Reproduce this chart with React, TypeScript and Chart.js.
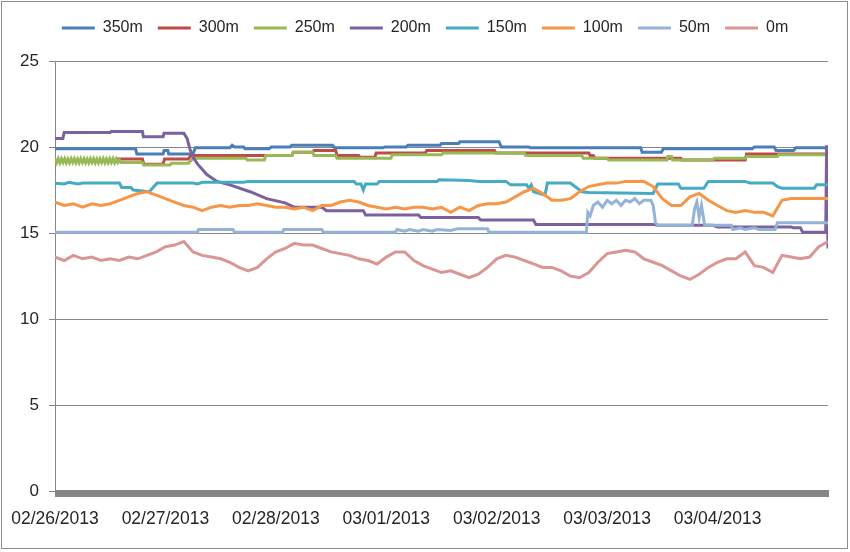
import { useEffect, useRef } from 'react';
import { Chart, registerables } from 'chart.js';

Chart.register(...registerables);

// ---- axis / legend text ----
const DATE_LABELS = ['02/26/2013', '02/27/2013', '02/28/2013', '03/01/2013', '03/02/2013', '03/03/2013', '03/04/2013'];
const SERIES_NAMES = ['350m', '300m', '250m', '200m', '150m', '100m', '50m', '0m'];
const SERIES_COLORS = ['#4A7EBB', '#BE4B48', '#98B954', '#7D60A0', '#46AAC5', '#F79646', '#95B3D7', '#D99694'];
const Y_MIN = 0;
const Y_MAX = 25;
const Y_STEP = 5;
const HOURS_TOTAL = 168;

// ---- step-like series: [hour since 02/26 00:00, value] ----
const SERIES_350M: Array<[number, number]> = [
  [0, 19.9], [17.5, 19.9], [17.8, 19.6], [23.5, 19.6], [23.7, 19.8], [24.5, 19.8], [24.7, 19.6], [30, 19.6],
  [30.5, 19.95], [38, 19.95], [38.5, 20.1], [39, 20.0], [41, 20.0], [41.3, 19.9], [46.5, 19.9], [47, 20.0],
  [51, 20.0], [51.5, 20.1], [60.3, 20.1], [60.8, 19.95], [71.3, 19.95], [71.7, 20.0], [76.3, 20.0], [76.7, 20.1],
  [83.7, 20.1], [84, 20.2], [87.7, 20.2], [88, 20.3], [96.5, 20.3], [97, 20.0], [103, 20.0], [103.3, 19.95],
  [127.3, 19.95], [127.6, 19.7], [131.8, 19.7], [132.2, 19.9], [151.5, 19.9], [152, 20.0], [156.3, 20.0],
  [156.7, 19.8], [160.5, 19.8], [161, 19.95], [168, 19.95],
];

const SERIES_300M: Array<[number, number]> = [
  [0, 19.2], [13.5, 19.2], [13.7, 19.3], [19, 19.3], [19.3, 19.0], [23.5, 19.0], [23.8, 19.3], [29, 19.3],
  [29.5, 19.5], [51.5, 19.5], [51.8, 19.7], [56, 19.7], [56.3, 19.8], [61, 19.8], [61.3, 19.5], [66, 19.5],
  [66.3, 19.4], [69.5, 19.4], [69.8, 19.65], [80.5, 19.65], [80.8, 19.8], [95.5, 19.8], [95.8, 19.65],
  [116, 19.65], [116.3, 19.5], [117, 19.5], [117.3, 19.35], [136, 19.35], [136.3, 19.25], [150, 19.25],
  [150.3, 19.6], [168, 19.6],
];

const SERIES_250M: Array<[number, number]> = [
  [0, 19.3], [0.35, 19.08], [0.7, 19.32], [1.05, 19.08], [1.4, 19.32], [1.75, 19.1], [2.1, 19.32], [2.45, 19.08],
  [2.8, 19.3], [3.15, 19.08], [3.5, 19.32], [3.85, 19.1], [4.2, 19.32], [4.55, 19.08], [4.9, 19.3], [5.25, 19.08],
  [5.6, 19.32], [5.95, 19.1], [6.3, 19.32], [6.65, 19.08], [7, 19.3], [7.35, 19.08], [7.7, 19.32], [8.05, 19.1],
  [8.4, 19.32], [8.75, 19.08], [9.1, 19.3], [9.45, 19.08], [9.8, 19.32], [10.15, 19.1], [10.5, 19.32],
  [10.85, 19.08], [11.2, 19.3], [11.55, 19.08], [11.9, 19.32], [12.25, 19.1], [12.6, 19.32], [12.95, 19.08],
  [13.3, 19.3], [13.65, 19.1], [14, 19.25], [14.3, 19.1], [19, 19.1], [19.3, 18.95],
  [25, 18.95], [25.3, 19.05], [29, 19.05], [30, 19.35], [41.5, 19.35], [41.8, 19.25], [45.5, 19.25],
  [45.8, 19.5], [51.5, 19.5], [51.8, 19.7], [56, 19.7], [56.3, 19.5], [61, 19.5], [61.3, 19.35], [73, 19.35],
  [73.3, 19.55], [84, 19.55], [84.3, 19.65], [102, 19.65], [102.3, 19.5], [114.5, 19.5], [114.8, 19.35],
  [120, 19.35], [120.3, 19.25], [133, 19.25], [133.2, 19.45], [134, 19.45], [134.2, 19.25], [143, 19.25],
  [143.3, 19.35], [150, 19.35], [150.3, 19.45], [157, 19.45], [157.3, 19.55], [168, 19.55],
];

const SERIES_200M: Array<[number, number]> = [
  [0, 20.5], [1.7, 20.5], [2, 20.85], [12, 20.85], [12.2, 20.9], [19, 20.9], [19.2, 20.6], [23.5, 20.6],
  [23.7, 20.8], [28, 20.8], [28.7, 20.5], [29.3, 19.9], [30, 19.4], [31, 19.0], [33, 18.4], [35.2, 18.0],
  [38, 17.8], [42.4, 17.4], [46, 17.0], [50, 16.75], [52, 16.5], [58, 16.5], [59, 16.3], [67, 16.3],
  [67.5, 16.05], [79, 16.05], [79.5, 15.9], [92, 15.9], [92.5, 15.75], [104, 15.75], [104.5, 15.5],
  [130, 15.5], [131, 15.45], [143, 15.45], [144, 15.35], [160, 15.35], [160.5, 15.3], [162, 15.3],
  [162.5, 15.05], [167.5, 15.05], [167.7, 20.1], [168, 14.1],
];

const SERIES_150M: Array<[number, number]> = [
  [0, 17.9], [2, 17.85], [3, 17.95], [5, 17.85], [6, 17.9], [14, 17.9], [14.5, 17.65], [16.5, 17.65],
  [17, 17.5], [20.5, 17.4], [21.5, 17.7], [22.2, 17.9], [30, 17.9], [31, 17.85], [32, 17.95], [41, 17.95],
  [42, 18.0], [65, 18.0], [65.5, 17.85], [66.5, 17.85], [67, 17.5], [67.5, 17.85], [70, 17.85], [70.5, 18.0],
  [83, 18.0], [83.5, 18.1], [90, 18.05], [92, 18.0], [98, 18.0], [99, 17.8], [102.5, 17.8], [103, 17.6],
  [103.5, 17.8], [104, 17.4], [106.5, 17.2], [107, 17.9], [112, 17.9], [113, 17.7], [114.5, 17.4],
  [116, 17.35], [130, 17.3], [131, 17.85], [135.5, 17.85], [136, 17.6], [141, 17.6], [142, 18.0],
  [150, 18.0], [151, 17.9], [156, 17.9], [157, 17.7], [158, 17.6], [165, 17.6], [165.5, 17.8], [168, 17.8],
];

const SERIES_50M: Array<[number, number]> = [
  [0, 15.05], [31, 15.05], [31.2, 15.2], [38.7, 15.2], [39, 15.05], [49.5, 15.05], [49.7, 15.2], [58, 15.2],
  [58.3, 15.05], [74, 15.05], [74.3, 15.2], [76, 15.1], [77, 15.2], [79, 15.1], [80, 15.2], [82, 15.1],
  [83, 15.2], [86, 15.15], [87.5, 15.25], [94, 15.25], [94.3, 15.05], [115.5, 15.05], [115.8, 16.2],
  [116.3, 16.0], [117, 16.6], [118, 16.8], [119, 16.5], [120, 16.9], [121, 16.7], [122, 16.9], [123, 16.6],
  [124, 16.9], [125, 16.8], [126, 17.0], [127, 16.7], [128, 16.9], [129.5, 16.9], [130, 16.6], [130.5, 15.6],
  [131, 15.45], [138.5, 15.45], [139, 16.4], [139.5, 16.8], [140, 15.9], [140.5, 16.6], [141.2, 15.45],
  [147, 15.45], [147.3, 15.2], [149, 15.3], [150, 15.2], [152, 15.3], [153, 15.2], [156.5, 15.2],
  [157, 15.6], [168, 15.6],
];

// ---- noisy series sampled every 2 hours (0 .. 168 h) ----
const TEMP_100M = [
  16.8, 16.6, 16.7, 16.5, 16.7, 16.6, 16.7, 16.9, 17.1, 17.3, 17.4, 17.2,
  17.0, 16.8, 16.6, 16.5, 16.3, 16.5, 16.6, 16.5, 16.6, 16.6, 16.7, 16.6,
  16.5, 16.5, 16.4, 16.5, 16.3, 16.6, 16.6, 16.8, 16.9, 16.8, 16.6, 16.5,
  16.4, 16.5, 16.4, 16.5, 16.5, 16.4, 16.5, 16.2, 16.5, 16.3, 16.6, 16.7,
  16.7, 16.8, 17.1, 17.4, 17.6, 17.3, 16.9, 16.9, 17.0, 17.4, 17.7, 17.8,
  17.9, 17.9, 18.0, 18.0, 18.0, 17.7, 17.0, 16.6, 16.6, 17.1, 17.3, 16.9,
  16.6, 16.3, 16.2, 16.3, 16.2, 16.2, 16.0, 16.9, 17.0, 17.0, 17.0, 17.0,
  17.0,
];

const TEMP_0M = [
  13.6, 13.4, 13.7, 13.5, 13.6, 13.4, 13.5, 13.4, 13.6, 13.5, 13.7, 13.9,
  14.2, 14.3, 14.5, 13.9, 13.7, 13.6, 13.5, 13.3, 13.0, 12.8, 13.0, 13.5,
  13.9, 14.1, 14.4, 14.3, 14.3, 14.1, 13.9, 13.8, 13.7, 13.5, 13.4, 13.2,
  13.6, 13.9, 13.9, 13.4, 13.1, 12.9, 12.7, 12.8, 12.6, 12.4, 12.6, 13.0,
  13.5, 13.7, 13.6, 13.4, 13.2, 13.0, 13.0, 12.8, 12.5, 12.4, 12.7, 13.3,
  13.8, 13.9, 14.0, 13.9, 13.5, 13.3, 13.1, 12.8, 12.5, 12.3, 12.6, 13.0,
  13.3, 13.5, 13.5, 13.9, 13.1, 13.0, 12.7, 13.7, 13.6, 13.5, 13.6, 14.2,
  14.5,
];
const GRID_STEP_HOURS = 2;

const pairsToPoints = (pairs: Array<[number, number]>) => pairs.map(([x, y]) => ({ x, y }));
const gridToPoints = (vals: number[]) => vals.map((y, i) => ({ x: i * GRID_STEP_HOURS, y }));

const SERIES_POINTS = [
  pairsToPoints(SERIES_350M),
  pairsToPoints(SERIES_300M),
  pairsToPoints(SERIES_250M),
  pairsToPoints(SERIES_200M),
  pairsToPoints(SERIES_150M),
  gridToPoints(TEMP_100M),
  pairsToPoints(SERIES_50M),
  gridToPoints(TEMP_0M),
];

const FONT = "'Liberation Sans', Arial, sans-serif";
const TEXT = '#262626';
const GRID = '#878787';
const TOP_PAD = 5;

const frame = {
  id: 'frame',
  beforeDraw(chart: any) {
    const { ctx, width, height } = chart;
    ctx.save();
    ctx.fillStyle = '#ffffff';
    ctx.fillRect(0, 0, width, height);
    ctx.restore();
  },
  afterDraw(chart: any) {
    const { ctx, chartArea } = chart;
    ctx.save();
    // heavy category axis band at 0
    ctx.fillStyle = '#858585';
    ctx.fillRect(chartArea.left, chartArea.bottom - 1, chartArea.right - chartArea.left + 1, 7);
    // outer chart border
    ctx.strokeStyle = '#8c8c8c';
    ctx.lineWidth = 1;
    ctx.strokeRect(1.5, 1.5, 846, 547);
    ctx.restore();
  },
};

export default function App() {
  const ref = useRef<HTMLCanvasElement | null>(null);

  useEffect(() => {
    if (!ref.current) return;
    const datasets = SERIES_NAMES.map((name, i) => ({
      label: name,
      data: SERIES_POINTS[i],
      borderColor: SERIES_COLORS[i],
      backgroundColor: SERIES_COLORS[i],
      borderWidth: 3,
      pointRadius: 0,
      tension: 0,
      fill: false,
      order: SERIES_NAMES.length - i,
    }));

    const chart = new Chart(ref.current, {
      type: 'line',
      data: { datasets },
      options: {
        animation: false,
        responsive: false,
        maintainAspectRatio: false,
        devicePixelRatio: 1,
        layout: { padding: { top: TOP_PAD, left: 0, right: 0, bottom: 0 } },
        plugins: {
          tooltip: { enabled: false },
          legend: {
            position: 'top',
            align: 'center',
            labels: {
              usePointStyle: true,
              pointStyle: 'line',
              pointStyleWidth: 33,
              padding: 15,
              color: TEXT,
              font: { family: FONT, size: 16 },
              sort: (a: any, b: any) => a.datasetIndex - b.datasetIndex,
            },
          },
        },
        scales: {
          x: {
            type: 'linear',
            position: 'bottom',
            min: 0,
            max: HOURS_TOTAL,
            grid: {
              display: true,
              drawOnChartArea: false,
              drawTicks: true,
              tickLength: 18,
              color: 'rgba(0,0,0,0)',
            },
            border: { display: false },
            afterFit: (s: any) => { s.height = 61; },
            ticks: {
              stepSize: 24,
              autoSkip: false,
              maxRotation: 0,
              padding: 0,
              color: TEXT,
              font: { family: FONT, size: 17.5 },
              callback: (v: any) => DATE_LABELS[Math.round(Number(v) / 24)] ?? '',
            },
          },
          xTop: {
            type: 'linear',
            position: 'top',
            display: true,
            grid: { display: false, drawTicks: false },
            border: { display: false },
            ticks: { display: false },
            afterFit: (s: any) => {
              const lh = s.chart.legend ? s.chart.legend.height : 0;
              s.height = Math.max(0, 61 - TOP_PAD - lh);
            },
          },
          y: {
            type: 'linear',
            position: 'left',
            min: Y_MIN,
            max: Y_MAX,
            afterFit: (s: any) => { s.width = 55; },
            grid: { color: GRID, lineWidth: 1, tickLength: 6, drawTicks: true },
            border: { display: true, color: GRID, width: 1 },
            ticks: {
              stepSize: Y_STEP,
              padding: 10,
              color: TEXT,
              font: { family: FONT, size: 17 },
            },
          },
          yRight: {
            type: 'linear',
            position: 'right',
            display: true,
            grid: { display: false, drawTicks: false },
            border: { display: false },
            ticks: { display: false },
            afterFit: (s: any) => { s.width = 22; },
          },
        },
      },
      plugins: [frame],
    });
    return () => chart.destroy();
  }, []);

  return (
    <div style={{ position: 'fixed', left: 0, top: 0, width: 850, height: 552, background: '#fff' }}>
      <canvas ref={ref} width={850} height={552} style={{ display: 'block', width: 850, height: 552 }} />
    </div>
  );
}
